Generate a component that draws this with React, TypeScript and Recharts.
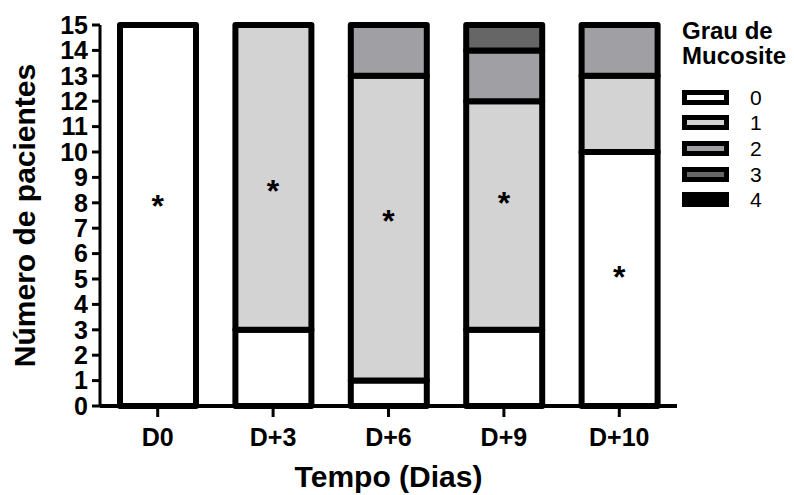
import { Bar, ComposedChart, Label, Line, XAxis, YAxis } from "recharts";

const dias = ["D0", "D+3", "D+6", "D+9", "D+10"];
const grau0 = [15, 3, 1, 3, 10];
const grau1 = [0, 12, 12, 9, 3];
const grau2 = [0, 0, 2, 2, 2];
const grau3 = [0, 0, 0, 1, 0];
const grau4 = [0, 0, 0, 0, 0];
// altura onde o asterisco aparece em cada barra
const asterisco = [8, 8.6, 7.4, 8.1, 5.2];
const ticksY = [0, 1, 2, 3, 4, 5, 6, 7, 8, 9, 10, 11, 12, 13, 14, 15];

const graus = ["0", "1", "2", "3", "4"];
const CORES = ["#ffffff", "#d3d3d3", "#a09fa3", "#666666", "#000000"];

const data = dias.map((dia, i) => ({
  dia,
  g0: grau0[i],
  g1: grau1[i],
  g2: grau2[i],
  g3: grau3[i],
  g4: grau4[i],
  ast: asterisco[i],
}));

const FONT = "'Liberation Sans', Arial, Helvetica, sans-serif";

const tickStyle = { fontSize: 25, fontWeight: 700, fill: "#000", fontFamily: FONT };

function Asterisco(props: any) {
  const { cx, cy, index } = props;
  if (cx == null || cy == null) return null;
  return (
    <text
      key={`ast-${index}`}
      x={cx}
      y={cy + 14}
      textAnchor="middle"
      fontSize={32}
      fontWeight={700}
      fontFamily={FONT}
      fill="#000"
    >
      *
    </text>
  );
}

function Legenda() {
  return (
    <div
      style={{
        position: "absolute",
        left: 682,
        top: 18,
        fontFamily: FONT,
        color: "#000",
      }}
    >
      <div style={{ fontSize: 24, fontWeight: 700, lineHeight: "25px" }}>
        Grau de
        <br />
        Mucosite
      </div>
      <div style={{ marginTop: 17 }}>
        {graus.map((g, i) => (
          <div
            key={g}
            style={{ display: "flex", alignItems: "center", height: 25.6 }}
          >
            <svg width={48} height={16} style={{ display: "block" }}>
              <rect
                x={2.5}
                y={2.5}
                width={42}
                height={10}
                fill={CORES[i]}
                stroke="#000"
                strokeWidth={5}
              />
            </svg>
            <span style={{ fontSize: 21, marginLeft: 20, lineHeight: "16px" }}>{g}</span>
          </div>
        ))}
      </div>
    </div>
  );
}

export default function App() {
  return (
    <div
      style={{
        position: "absolute",
        left: 0,
        top: 0,
        width: 794,
        height: 495,
        background: "#fff",
      }}
    >
      <ComposedChart
        width={794}
        height={495}
        data={data}
        margin={{ top: 25, right: 117, bottom: 0, left: 0 }}
        barCategoryGap={0}
      >
        <XAxis
          dataKey="dia"
          height={89}
          tick={tickStyle}
          tickSize={11}
          tickMargin={11}
          axisLine={{ stroke: "#000", strokeWidth: 4 }}
          tickLine={{ stroke: "#000", strokeWidth: 3 }}
        >
          <Label
            value="Tempo (Dias)"
            position="insideBottom"
            offset={8}
            style={{ fontSize: 30, fontWeight: 700, fill: "#000", fontFamily: FONT }}
          />
        </XAxis>
        <YAxis
          width={100}
          domain={[0, 15]}
          ticks={ticksY}
          interval={0}
          tick={tickStyle}
          tickSize={8}
          tickMargin={4}
          axisLine={{ stroke: "#000", strokeWidth: 3 }}
          tickLine={{ stroke: "#000", strokeWidth: 3 }}
        >
          <Label
            value="Número de pacientes"
            angle={-90}
            position="insideLeft"
            offset={24}
            textAnchor="middle"
            style={{ fontSize: 30, fontWeight: 700, fill: "#000", fontFamily: FONT, textAnchor: "middle" }}
          />
        </YAxis>
        {["g0", "g1", "g2", "g3", "g4"].map((k, i) => (
          <Bar
            key={k}
            dataKey={k}
            stackId="grau"
            barSize={76}
            fill={CORES[i]}
            stroke="#000"
            strokeWidth={6}
            strokeLinejoin="round"
            isAnimationActive={false}
          />
        ))}
        <Line
          dataKey="ast"
          stroke="none"
          dot={Asterisco}
          activeDot={false}
          legendType="none"
          isAnimationActive={false}
        />
      </ComposedChart>
      <Legenda />
    </div>
  );
}
